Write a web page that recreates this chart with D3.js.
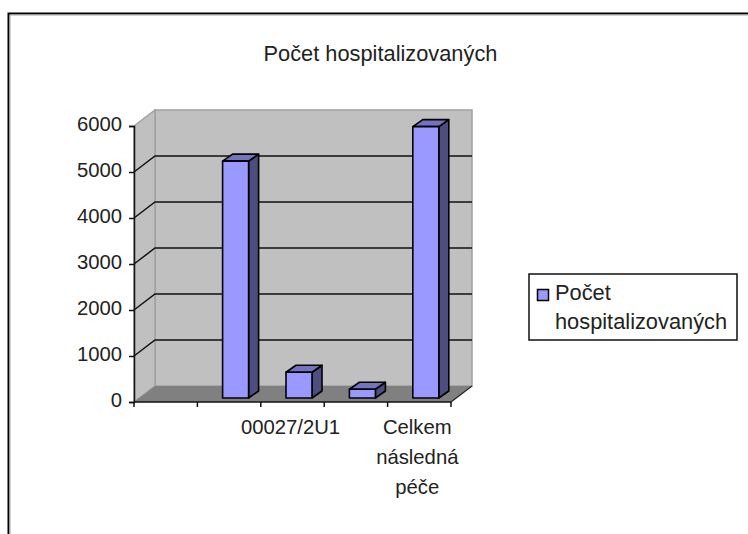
<!DOCTYPE html>
<html><head><meta charset="utf-8">
<style>html,body{margin:0;padding:0;background:#fff}svg{display:block}text{font-family:"Liberation Sans",Arial,sans-serif;fill:#222}</style>
<script src="https://cdn.jsdelivr.net/npm/d3@7/dist/d3.min.js"></script>
</head><body><svg id="c" width="748" height="534"></svg>
<script>
const title = "Počet hospitalizovaných";
const categories = ["a", "b", "00027/2U1", "d", "Celkem následná péče"];
const categoryLabels = [[], [], ["00027/2U1"], [], ["Celkem", "následná", "péče"]];
const values = [0, 5150, 560, 190, 5900];
const yTicks = [0, 1000, 2000, 3000, 4000, 5000, 6000];
const legendLines = ["Počet", "hospitalizovaných"];

const svg = d3.select("#c");
const fsTitle = 21.8, fsAxis = 20.3, fsLegend = 21.8;
const y = d3.scaleLinear().domain([0, 6000]).range([402, 126]);
const x = d3.scaleBand().domain(categories).range([134, 451]).paddingInner(0).paddingOuter(0);
const dx = 21, dy = -16;            // wall depth
const bdx = 10, bdy = -7;           // bar depth
const barW = 26;
const poly = p => p.map(q => q.join(",")).join(" ");

// outer frame (top + left only)
svg.append("path").attr("d", "M8.5,534V13.5H748").attr("fill", "none").attr("stroke", "#000").attr("stroke-width", 2);
svg.append("path").attr("d", "M10,534V15H748").attr("fill", "none").attr("stroke", "#a8a8a8").attr("stroke-width", 1);

svg.append("text").attr("x", 380.5).attr("y", 61).attr("text-anchor", "middle").attr("font-size", fsTitle).text(title);

const x0 = x.range()[0], x1 = x.range()[1], y0 = y(0), yT = y(6000);
// back wall
svg.append("polygon").attr("points", poly([[x0+dx,yT+dy],[x1+dx,yT+dy],[x1+dx,y0+dy],[x0+dx,y0+dy]]))
  .attr("fill", "#c0c0c0").attr("stroke", "#a0a0a0").attr("stroke-width", 1.5);
// side wall
svg.append("polygon").attr("points", poly([[x0,yT],[x0+dx,yT+dy],[x0+dx,y0+dy],[x0,y0]]))
  .attr("fill", "#c0c0c0").attr("stroke", "#a0a0a0").attr("stroke-width", 1.5);
// floor
svg.append("polygon").attr("points", poly([[x0,y0],[x0+dx,y0+dy],[x1+dx,y0+dy],[x1,y0]]))
  .attr("fill", "#808080");

// gridlines
yTicks.filter(t => t > 0 && t < 6000).forEach(t => {
  svg.append("polyline").attr("points", poly([[x0,y(t)],[x0+dx,y(t)+dy],[x1+dx,y(t)+dy]]))
    .attr("fill", "none").attr("stroke", "#111").attr("stroke-width", 1.5);
});
svg.append("line").attr("x1", x1).attr("y1", y0).attr("x2", x1+dx).attr("y2", y0+dy)
  .attr("stroke", "#222").attr("stroke-width", 1.2);

// bars
const bars = svg.append("g").attr("stroke", "#000").attr("stroke-width", 1.6).attr("stroke-linejoin", "round");
categories.forEach((c, i) => {
  const v = values[i];
  if (!v) return;
  const l = x(c) + x.bandwidth()/2 + 6.5 - barW/2, r = l + barW;
  const b = y0 - 4, t = y(v) - 4;
  bars.append("polygon").attr("points", poly([[r,b],[r+bdx,b+bdy],[r+bdx,t+bdy],[r,t]])).attr("fill", "#4d4d80");
  bars.append("polygon").attr("points", poly([[l,t],[l+bdx,t+bdy],[r+bdx,t+bdy],[r,t]])).attr("fill", "#7373bf");
  bars.append("rect").attr("x", l).attr("y", t).attr("width", barW).attr("height", b - t).attr("fill", "#9999ff");
});

// axes
const yAxis = d3.axisLeft(y).tickValues(yTicks).tickSize(5).tickPadding(7).tickFormat(d3.format("d"));
const gy = svg.append("g").attr("transform", `translate(${x0},0)`).call(yAxis);
gy.selectAll("text").attr("font-size", fsAxis).attr("font-family", null).attr("dy", "0.22em");
gy.selectAll("path,line").attr("stroke", "#111").attr("stroke-width", 1.5);

const xAxis = d3.axisBottom(x).tickFormat("").tickSize(0);
const gx = svg.append("g").attr("transform", `translate(0,${y0})`).call(xAxis);
gx.selectAll("path,line").attr("stroke", "#111").attr("stroke-width", 1.5);
gx.select("path").attr("d", `M${x0},0H${x1}`);
[...categories.map(c => x(c)), x1].forEach(px => {
  gx.append("line").attr("x1", px).attr("x2", px).attr("y1", 0).attr("y2", 5).attr("stroke", "#111").attr("stroke-width", 1.5);
});
categories.forEach((c, i) => {
  categoryLabels[i].forEach((s, j) => {
    svg.append("text").attr("x", x(c) + x.bandwidth()/2 - 2).attr("y", 434 + j*30)
      .attr("text-anchor", "middle").attr("font-size", fsAxis).text(s);
  });
});

// legend
svg.append("rect").attr("x", 529).attr("y", 274).attr("width", 208).attr("height", 66)
  .attr("fill", "#fff").attr("stroke", "#111").attr("stroke-width", 1.5);
svg.append("rect").attr("x", 537.5).attr("y", 289.5).attr("width", 11).attr("height", 11)
  .attr("fill", "#9999ff").attr("stroke", "#000").attr("stroke-width", 1.5);
legendLines.forEach((s, j) => {
  svg.append("text").attr("x", 555).attr("y", 300 + j*29).attr("font-size", fsLegend).text(s);
});
</script></body></html>
